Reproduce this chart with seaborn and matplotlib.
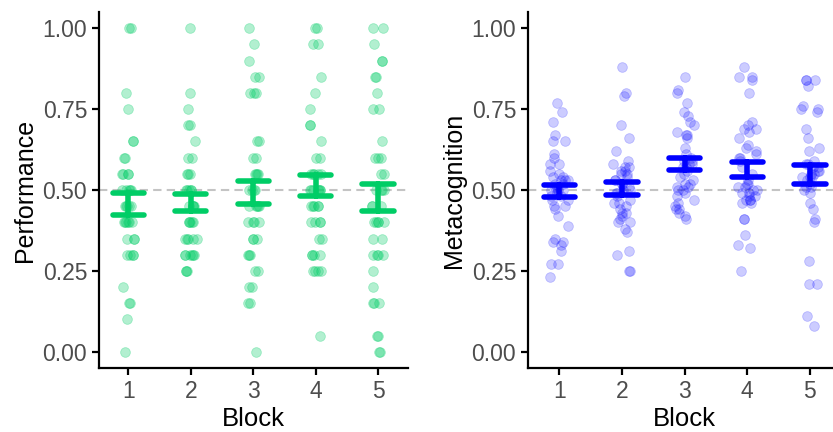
import matplotlib
matplotlib.use("Agg")
import matplotlib.pyplot as plt
import numpy as np
import pandas as pd
import seaborn as sns

# ---------------------------------------------------------------------------
# Data
# ---------------------------------------------------------------------------

blocks = ["1", "2", "3", "4", "5"]

perf_b1 = [1.00, 1.00, 0.80, 0.75, 0.65, 0.65, 0.60, 0.60, 0.55, 0.55, 0.55, 0.55,
           0.50, 0.50, 0.50, 0.50, 0.50, 0.45, 0.45, 0.45, 0.45, 0.45,
           0.40, 0.40, 0.40, 0.40, 0.40, 0.40, 0.35, 0.35, 0.35,
           0.30, 0.30, 0.30, 0.30, 0.20, 0.15, 0.15, 0.10, 0.00]
perf_b2 = [1.00, 0.80, 0.75, 0.70, 0.70, 0.65, 0.60, 0.60, 0.55, 0.55, 0.55,
           0.50, 0.50, 0.50, 0.50, 0.50, 0.45, 0.45, 0.45, 0.45, 0.45,
           0.40, 0.40, 0.40, 0.40, 0.40, 0.35, 0.35, 0.35, 0.35, 0.35,
           0.30, 0.30, 0.30, 0.30, 0.30, 0.30, 0.25, 0.25, 0.25]
perf_b3 = [1.00, 0.95, 0.90, 0.85, 0.85, 0.80, 0.80, 0.80, 0.65, 0.65, 0.60, 0.60,
           0.55, 0.55, 0.55, 0.55, 0.50, 0.50, 0.50, 0.50,
           0.45, 0.45, 0.45, 0.45, 0.45, 0.40, 0.40, 0.40, 0.40,
           0.35, 0.35, 0.35, 0.30, 0.30, 0.30, 0.25, 0.25, 0.20, 0.20,
           0.15, 0.15, 0.00]
perf_b4 = [1.00, 1.00, 0.95, 0.95, 0.85, 0.80, 0.75, 0.70, 0.70, 0.65, 0.60, 0.60,
           0.55, 0.55, 0.55, 0.55, 0.55, 0.50, 0.50, 0.50, 0.50, 0.50, 0.50, 0.50,
           0.45, 0.45, 0.45, 0.45, 0.45, 0.40, 0.40, 0.40, 0.40, 0.35, 0.35,
           0.30, 0.30, 0.30, 0.30, 0.25, 0.25, 0.25, 0.25, 0.05]
perf_b5 = [1.00, 1.00, 0.95, 0.90, 0.90, 0.85, 0.85, 0.80, 0.75, 0.75, 0.65,
           0.60, 0.60, 0.60, 0.55, 0.55, 0.50, 0.50, 0.50, 0.50, 0.45, 0.45, 0.45,
           0.40, 0.40, 0.40, 0.40, 0.40, 0.35, 0.35, 0.30, 0.30, 0.30, 0.30,
           0.25, 0.20, 0.15, 0.15, 0.15, 0.05, 0.05, 0.00, 0.00]

meta_b1 = [0.77, 0.74, 0.71, 0.67, 0.65, 0.65, 0.61, 0.60, 0.58, 0.58, 0.56, 0.55,
           0.54, 0.54, 0.53, 0.53, 0.52, 0.51, 0.50, 0.50, 0.49, 0.48, 0.47, 0.45,
           0.45, 0.44, 0.42, 0.39, 0.35, 0.34, 0.34, 0.33, 0.31, 0.27, 0.27, 0.23,
           0.52, 0.50, 0.48, 0.51, 0.47, 0.53]
meta_b2 = [0.88, 0.80, 0.79, 0.70, 0.66, 0.62, 0.59, 0.58, 0.57, 0.57, 0.56, 0.56,
           0.55, 0.54, 0.53, 0.52, 0.51, 0.50, 0.49, 0.48, 0.47, 0.46, 0.46, 0.45,
           0.44, 0.43, 0.43, 0.42, 0.41, 0.40, 0.40, 0.38, 0.37, 0.31, 0.30, 0.25,
           0.25, 0.52, 0.50, 0.53, 0.55, 0.49]
meta_b3 = [0.85, 0.81, 0.80, 0.77, 0.74, 0.73, 0.71, 0.70, 0.68, 0.67, 0.67, 0.66,
           0.63, 0.61, 0.59, 0.55, 0.52, 0.51, 0.51, 0.50, 0.48, 0.46, 0.45, 0.44,
           0.43, 0.42, 0.41, 0.60, 0.59, 0.58, 0.57, 0.58, 0.57, 0.56, 0.54, 0.53,
           0.52, 0.50, 0.49, 0.47, 0.44]
meta_b4 = [0.88, 0.85, 0.85, 0.84, 0.80, 0.71, 0.70, 0.69, 0.69, 0.68, 0.66, 0.64,
           0.63, 0.62, 0.61, 0.60, 0.60, 0.59, 0.57, 0.55, 0.53, 0.52, 0.52, 0.51,
           0.51, 0.50, 0.50, 0.49, 0.49, 0.48, 0.47, 0.47, 0.46, 0.41, 0.41, 0.36,
           0.33, 0.32, 0.25, 0.48, 0.47, 0.46]
meta_b5 = [0.84, 0.84, 0.84, 0.82, 0.76, 0.75, 0.75, 0.74, 0.69, 0.66, 0.63, 0.62,
           0.59, 0.58, 0.56, 0.55, 0.54, 0.54, 0.53, 0.52, 0.51, 0.51, 0.50, 0.49,
           0.46, 0.44, 0.41, 0.40, 0.28, 0.21, 0.21, 0.11, 0.08,
           0.56, 0.57, 0.55, 0.58, 0.54, 0.57]

GREEN = "#00CD66"
BLUE = "#0000FF"


def long_frame(series, name):
    return pd.DataFrame({
        "Block": np.repeat(blocks, [len(s) for s in series]),
        name: np.concatenate(series),
    })


perf = long_frame([perf_b1, perf_b2, perf_b3, perf_b4, perf_b5], "Performance")
meta = long_frame([meta_b1, meta_b2, meta_b3, meta_b4, meta_b5], "Metacognition")

# ---------------------------------------------------------------------------
# Plot
# ---------------------------------------------------------------------------

sns.set_style("ticks")
plt.rcParams["font.family"] = ["Liberation Sans", "DejaVu Sans"]
np.random.seed(3)

fig = plt.figure(figsize=(8.33, 4.32), dpi=100)
bottom, height = 1 - 368 / 432, (368 - 12) / 432
ax1 = fig.add_axes([99 / 833, bottom, (408 - 99) / 833, height])
ax2 = fig.add_axes([528 / 833, bottom, (840 - 528) / 833, height])


def panel(ax, df, col, color, alpha, jitter):
    ax.axhline(0.5, color="#C4C4C4", linestyle=(0, (4, 2.5)), linewidth=1.5, zorder=0)
    sns.stripplot(data=df, x="Block", y=col, order=blocks, color=color,
                  alpha=alpha, jitter=jitter, size=7, linewidth=0.6,
                  edgecolor=color, ax=ax, zorder=2)
    sns.pointplot(data=df, x="Block", y=col, order=blocks, errorbar="se",
                  capsize=0.5, color=color, linestyle="none", marker="",
                  err_kws={"linewidth": 4}, ax=ax, zorder=3)
    ax.set_xlim(-0.47, 4.48)
    ax.set_ylim(-0.05, 1.05)
    ax.set_yticks([0, 0.25, 0.5, 0.75, 1.0])
    ax.set_yticklabels(["0.00", "0.25", "0.50", "0.75", "1.00"])
    ax.set_xlabel("Block", fontsize=18.5, color="black", labelpad=3)
    ax.set_ylabel(col, fontsize=18, color="black")
    ax.tick_params(length=5, width=1.6, color="black", labelsize=16.5,
                   labelcolor="#4D4D4D")
    for s in ["left", "bottom"]:
        ax.spines[s].set_linewidth(1.6)
        ax.spines[s].set_color("black")
    sns.despine(ax=ax)


panel(ax1, perf, "Performance", GREEN, 0.3, 0.1)
panel(ax2, meta, "Metacognition", BLUE, 0.2, 0.15)
ax2.set_xlim(-0.5, 4.48)

fig.savefig("out.png", dpi=100)
